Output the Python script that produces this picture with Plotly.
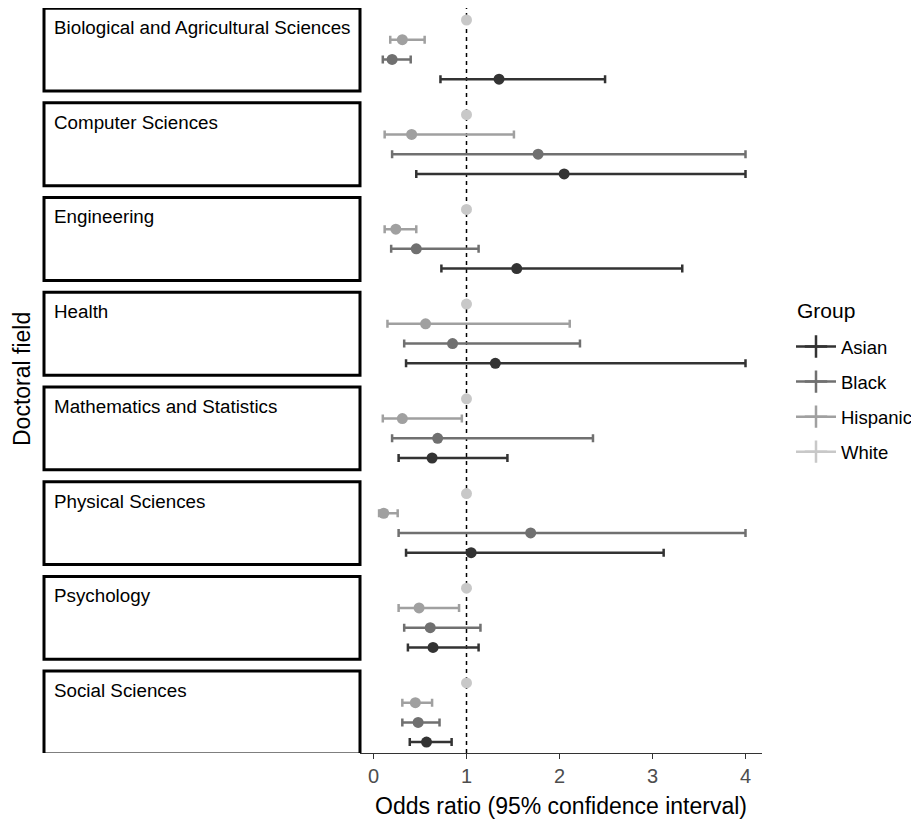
import plotly.graph_objects as go

fields = [
    "Biological and Agricultural Sciences",
    "Computer Sciences",
    "Engineering",
    "Health",
    "Mathematics and Statistics",
    "Physical Sciences",
    "Psychology",
    "Social Sciences",
]

groups = ["Asian", "Black", "Hispanic", "White"]

asian_or = [1.35, 2.05, 1.54, 1.31, 0.63, 1.05, 0.64, 0.57]
asian_lo = [0.72, 0.46, 0.73, 0.35, 0.27, 0.35, 0.37, 0.39]
asian_hi = [2.49, 4.00, 3.32, 4.00, 1.44, 3.12, 1.13, 0.84]

black_or = [0.20, 1.77, 0.46, 0.85, 0.69, 1.69, 0.61, 0.48]
black_lo = [0.10, 0.20, 0.19, 0.33, 0.20, 0.27, 0.33, 0.31]
black_hi = [0.40, 4.00, 1.13, 2.22, 2.36, 4.00, 1.15, 0.71]

hisp_or = [0.31, 0.41, 0.24, 0.56, 0.31, 0.11, 0.49, 0.45]
hisp_lo = [0.18, 0.12, 0.12, 0.15, 0.10, 0.06, 0.27, 0.31]
hisp_hi = [0.55, 1.51, 0.46, 2.11, 0.95, 0.26, 0.92, 0.63]

white_or = [1, 1, 1, 1, 1, 1, 1, 1]

x_ticks = [0, 1, 2, 3, 4]

# styling
colors = {"Asian": "#333333", "Black": "#707070", "Hispanic": "#a0a0a0", "White": "#c8c8c8"}
row_offset = {"White": 0, "Hispanic": 1, "Black": 2, "Asian": 3}
GROUP_STEP = 4.8
OFF = 8  # page body margin
W, H = 919 - OFF, 819 - OFF
PX_PER_UNIT = 19.73


def px(xp):
    return (xp - OFF) / W


def py(yp):
    return 1 - (yp - OFF) / H


series = {
    "Asian": (asian_or, asian_lo, asian_hi),
    "Black": (black_or, black_lo, black_hi),
    "Hispanic": (hisp_or, hisp_lo, hisp_hi),
    "White": (white_or, None, None),
}

fig = go.Figure()

for g in ["Asian", "Black", "Hispanic", "White"]:
    orv, lo, hi = series[g]
    ys = [i * GROUP_STEP + row_offset[g] for i in range(len(fields))]
    tr = dict(
        x=orv, y=ys, mode="markers",
        marker=dict(color=colors[g], size=11, symbol="circle"),
        showlegend=False, hoverinfo="x+y", name=g,
    )
    if lo is not None:
        tr["error_x"] = dict(
            type="data", symmetric=False,
            array=[h - o for h, o in zip(hi, orv)],
            arrayminus=[o - l for o, l in zip(orv, lo)],
            color=colors[g], thickness=2.5, width=4,
        )
    fig.add_trace(go.Scatter(**tr))

# legend entries
for g in groups:
    fig.add_trace(go.Scatter(
        x=[None], y=[None], mode="lines+markers", name=g,
        legendgroup=g,
        line=dict(color=colors[g], width=2.5),
        marker=dict(symbol="cross-thin", size=16, color=colors[g],
                    line=dict(color=colors[g], width=2.5)),
    ))

# boxes with field labels
shapes = []
annotations = []
for i, f in enumerate(fields):
    c = i * GROUP_STEP + 1.5
    shapes.append(dict(type="rect", xref="paper", yref="y",
                       x0=px(44), x1=px(360), y0=c - 2.1, y1=c + 2.1,
                       line=dict(color="black", width=3), fillcolor="rgba(0,0,0,0)"))
    annotations.append(dict(text=f, xref="paper", yref="y", x=px(52), y=i * GROUP_STEP + 0.38,
                            xanchor="left", yanchor="middle", showarrow=False,
                            font=dict(size=18.8, color="black")))

# reference line at OR = 1
shapes.append(dict(type="line", xref="x", yref="paper", x0=1, x1=1,
                   y0=py(753), y1=py(8), layer="below",
                   line=dict(color="black", width=1.5, dash="4px,4px")))

annotations.append(dict(text="Odds ratio (95% confidence interval)", xref="paper", yref="paper",
                        x=px(561), y=py(806), xanchor="center", yanchor="middle",
                        showarrow=False, font=dict(size=23, color="black")))
annotations.append(dict(text="Doctoral field", xref="paper", yref="paper",
                        x=px(22), y=py(379), xanchor="center", yanchor="middle",
                        textangle=-90, showarrow=False, font=dict(size=23, color="black")))
# legend title
annotations.append(dict(text="Group", xref="paper", yref="paper",
                        x=px(795), y=py(310), xanchor="left", yanchor="middle",
                        showarrow=False, font=dict(size=21, color="black")))

y_top = (OFF - 20) / PX_PER_UNIT
y_bot = (753 - 20) / PX_PER_UNIT

fig.update_layout(
    width=W, height=H,
    margin=dict(l=0, r=0, t=0, b=0),
    paper_bgcolor="white", plot_bgcolor="white",
    font=dict(family="Liberation Sans, Arial, sans-serif"),
    xaxis=dict(domain=[px(360), px(762)], range=[(360 - 373.5) / 93, (762 - 373.5) / 93],
               tickvals=x_ticks, ticktext=[str(t) for t in x_ticks],
               showgrid=False, zeroline=False, showline=True, linecolor="#333333", linewidth=1,
               ticks="outside", ticklen=5, tickcolor="#333333", tickwidth=1,
               tickfont=dict(size=20, color="#4d4d4d")),
    yaxis=dict(domain=[py(753), py(8)], range=[y_bot, y_top],
               showgrid=False, zeroline=False, showline=False, showticklabels=False, ticks=""),
    shapes=shapes, annotations=annotations,
    legend=dict(x=px(791), y=py(328), xanchor="left", yanchor="top",
                font=dict(size=18.5, color="black"),
                tracegroupgap=8, traceorder="grouped", itemwidth=40,
                bgcolor="rgba(0,0,0,0)"),
)

fig.write_html("out.html")
